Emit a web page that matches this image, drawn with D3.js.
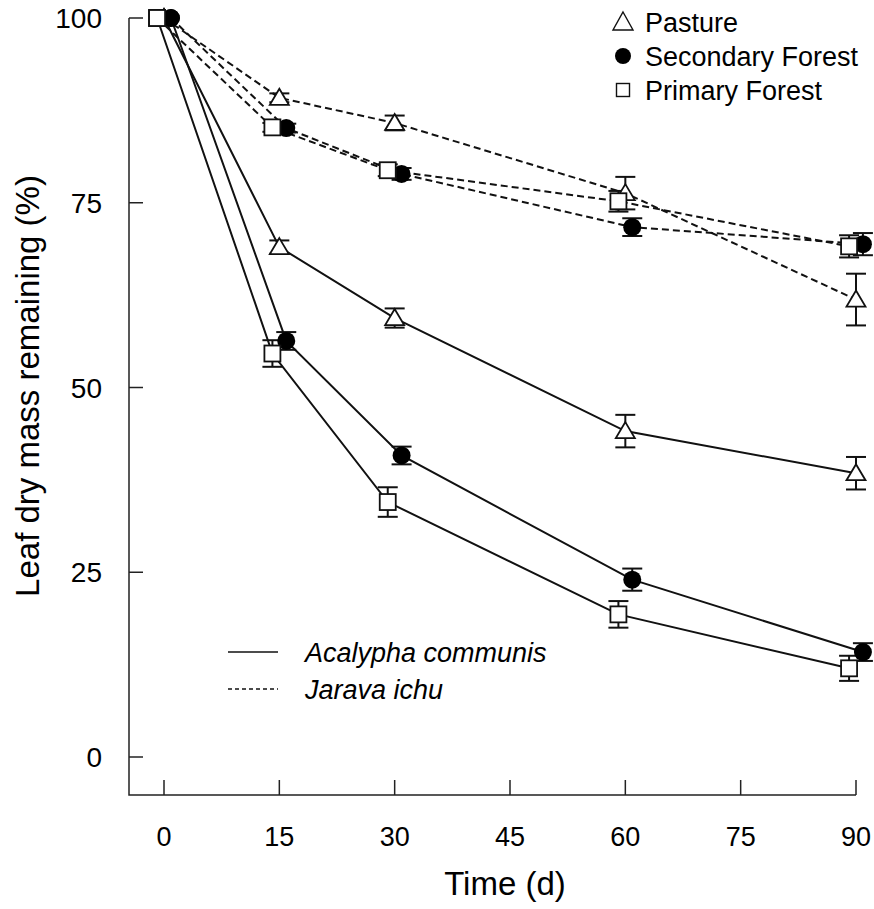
<!DOCTYPE html>
<html>
<head>
<meta charset="utf-8">
<script src="https://cdn.jsdelivr.net/npm/d3@7"></script>
<style>
  body { margin: 0; background: #fff; }
  svg { font-family: "Liberation Sans", Arial, sans-serif; }
</style>
</head>
<body>
<div id="chart"></div>
<script>
// Sampling days and tick values
const days = [0, 15, 30, 60, 90];
const xTicks = [0, 15, 30, 45, 60, 75, 90];
const yTicks = [0, 25, 50, 75, 100];

// Habitats, in legend order
const habitats = ["Pasture", "Secondary Forest", "Primary Forest"];
const species = ["Acalypha communis", "Jarava ichu"];

// Acalypha communis (solid lines), mean and error per day
const acalyphaPasture   = [100, 69.0, 59.4, 44.1, 38.4];
const acalyphaPastureSE = [0, 0.9, 1.3, 2.2, 2.2];
const acalyphaSecondary   = [100, 56.3, 40.8, 24.0, 14.2];
const acalyphaSecondarySE = [0, 1.2, 1.2, 1.5, 1.2];
const acalyphaPrimary   = [100, 54.6, 34.5, 19.3, 12.0];
const acalyphaPrimarySE = [0, 1.8, 2.0, 1.8, 1.7];

// Jarava ichu (dashed lines)
const jaravaPasture   = [100, 89.2, 85.8, 76.3, 61.9];
const jaravaPastureSE = [0, 0.6, 1.0, 2.2, 3.5];
const jaravaSecondary   = [100, 85.1, 78.9, 71.7, 69.4];
const jaravaSecondarySE = [0, 0.6, 0.8, 1.2, 1.5];
const jaravaPrimary   = [100, 85.2, 79.4, 75.2, 69.1];
const jaravaPrimarySE = [0, 0.6, 0.8, 1.4, 1.5];

const margin = { top: 18, left: 129, right: 18, bottom: 114 },
      width = 874,
      height = 909;

const series = [
    { species: species[0], habitat: "Pasture", values: acalyphaPasture, se: acalyphaPastureSE },
    { species: species[0], habitat: "Secondary Forest", values: acalyphaSecondary, se: acalyphaSecondarySE },
    { species: species[0], habitat: "Primary Forest", values: acalyphaPrimary, se: acalyphaPrimarySE },
    { species: species[1], habitat: "Pasture", values: jaravaPasture, se: jaravaPastureSE },
    { species: species[1], habitat: "Secondary Forest", values: jaravaSecondary, se: jaravaSecondarySE },
    { species: species[1], habitat: "Primary Forest", values: jaravaPrimary, se: jaravaPrimarySE }
];

// Small horizontal jitter (in days) so the symbols don't overlap
const dodge = { "Pasture": 0, "Secondary Forest": 0.9, "Primary Forest": -0.9 };

const x = d3.scaleLinear().domain([0, 90]).range([164, 856]);
const y = d3.scaleLinear().domain([0, 100]).range([757, 18]);

const svg = d3.select("#chart").append("svg")
    .attr("width", width)
    .attr("height", height);

// Axes frame: left and bottom lines with inward ticks
const axisBottomY = 795;
svg.append("path")
    .attr("fill", "none").attr("stroke", "#222").attr("stroke-width", 1.5)
    .attr("d", `M${margin.left},${y(100)}V${axisBottomY}H${x(90)}`);

svg.append("g").selectAll("line").data(yTicks).join("line")
    .attr("x1", margin.left).attr("x2", margin.left + 14)
    .attr("y1", d => y(d)).attr("y2", d => y(d))
    .attr("stroke", "#222").attr("stroke-width", 1.5);

svg.append("g").attr("font-size", 28).attr("text-anchor", "end")
    .selectAll("text").data(yTicks).join("text")
    .attr("x", 102).attr("y", d => y(d)).attr("dy", "0.36em")
    .text(d => d);

svg.append("g").selectAll("line").data(xTicks).join("line")
    .attr("x1", d => x(d)).attr("x2", d => x(d))
    .attr("y1", axisBottomY).attr("y2", axisBottomY - 15)
    .attr("stroke", "#222").attr("stroke-width", 1.5);

svg.append("g").attr("font-size", 27).attr("text-anchor", "middle")
    .selectAll("text").data(xTicks).join("text")
    .attr("x", d => x(d)).attr("y", 846)
    .text(d => d);

// Axis titles
svg.append("text")
    .attr("transform", "translate(39,386) rotate(-90)")
    .attr("text-anchor", "middle").attr("font-size", 33)
    .text("Leaf dry mass remaining (%)");

svg.append("text")
    .attr("x", 505).attr("y", 895)
    .attr("text-anchor", "middle").attr("font-size", 33)
    .text("Time (d)");

// Lines
const line = d3.line()
    .x(d => d.x)
    .y(d => d.y);

function points(s) {
    return days.map((d, i) => ({
        x: x(d + dodge[s.habitat]),
        y: y(s.values[i]),
        lo: y(s.values[i] - s.se[i]),
        hi: y(s.values[i] + s.se[i]),
        se: s.se[i]
    }));
}

svg.append("g").attr("fill", "none").attr("stroke", "#111").attr("stroke-width", 2)
    .selectAll("path").data(series).join("path")
    .attr("stroke-dasharray", d => d.species === "Jarava ichu" ? "7,4" : null)
    .attr("d", d => line(points(d)));

// Error bars
const bars = series.flatMap(s => points(s).filter(p => p.se > 0));
const eb = svg.append("g").attr("stroke", "#111").attr("stroke-width", 2);
eb.selectAll("line.v").data(bars).join("line").attr("class", "v")
    .attr("x1", d => d.x).attr("x2", d => d.x)
    .attr("y1", d => d.lo).attr("y2", d => d.hi);
eb.selectAll("line.lo").data(bars).join("line").attr("class", "lo")
    .attr("x1", d => d.x - 10).attr("x2", d => d.x + 10)
    .attr("y1", d => d.lo).attr("y2", d => d.lo);
eb.selectAll("line.hi").data(bars).join("line").attr("class", "hi")
    .attr("x1", d => d.x - 10).attr("x2", d => d.x + 10)
    .attr("y1", d => d.hi).attr("y2", d => d.hi);

// Symbols
function symbolFor(habitat, g) {
    if (habitat === "Pasture") {
        g.append("path").attr("d", "M0,-9L9.5,7H-9.5Z")
            .attr("fill", "#fff").attr("stroke", "#111").attr("stroke-width", 1.8);
    } else if (habitat === "Secondary Forest") {
        g.append("circle").attr("r", 9).attr("fill", "#000");
    } else {
        g.append("rect").attr("x", -8).attr("y", -8).attr("width", 16).attr("height", 16)
            .attr("fill", "#fff").attr("stroke", "#111").attr("stroke-width", 1.8);
    }
}

const marks = series.flatMap(s => points(s).map(p => ({ habitat: s.habitat, x: p.x, y: p.y })));
svg.append("g").selectAll("g").data(marks).join("g")
    .attr("transform", d => `translate(${d.x},${d.y})`)
    .each(function(d) { symbolFor(d.habitat, d3.select(this)); });

// Habitat legend (top right)
const leg = svg.append("g").attr("font-size", 27);
habitats.forEach(function(h, i) {
    const row = leg.append("g").attr("transform", `translate(623,${22 + i * 34})`);
    const sym = row.append("g");
    symbolFor(h, sym);
    if (h === "Pasture") sym.select("path").attr("d", "M0,-10L10,8H-10Z").attr("stroke-width", 1.4);
    if (h === "Secondary Forest") sym.select("circle").attr("r", 8);
    if (h === "Primary Forest") sym.select("rect").attr("x", -6.5).attr("y", -6.5).attr("width", 13).attr("height", 13).attr("stroke-width", 1.4);
    row.append("text").attr("x", 22).attr("dy", "0.36em").text(h);
});

// Species legend (bottom left)
const leg2 = svg.append("g").attr("font-size", 27).attr("font-style", "italic");
species.forEach(function(s, i) {
    const row = leg2.append("g").attr("transform", `translate(228,${652 + i * 37})`);
    row.append("line").attr("x1", 0).attr("x2", 50)
        .attr("stroke", "#111").attr("stroke-width", 1.5)
        .attr("stroke-dasharray", i === 1 ? "4,3" : null);
    row.append("text").attr("x", 77).attr("dy", "0.36em").text(s);
});
</script>
</body>
</html>
